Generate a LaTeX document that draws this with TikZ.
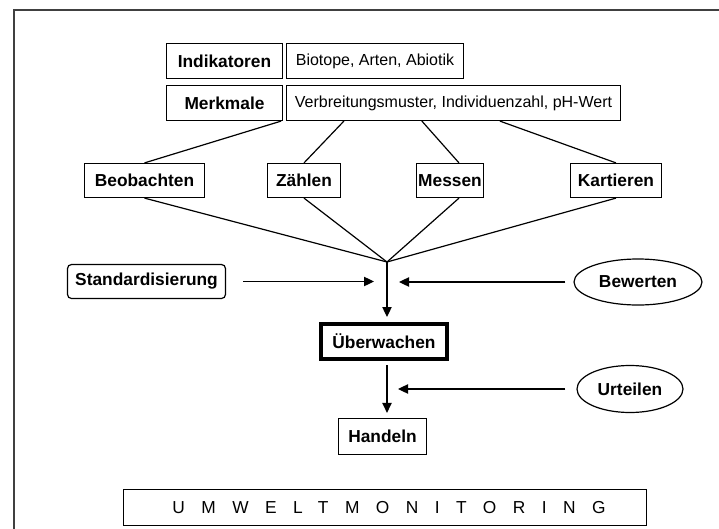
\documentclass[tikz,border=0pt]{standalone}
\usepackage{fontspec}
\setmainfont{Liberation Sans}
\usetikzlibrary{shapes.geometric,arrows.meta,calc}

\begin{document}
\begin{tikzpicture}
  [x=0.75pt,y=-0.75pt,
   every node/.style={draw,line width=0.9pt,inner sep=0pt,font=\fontsize{13}{15}\selectfont\bfseries},
   sz/.style 2 args={minimum width=#1*0.75pt,minimum height=#2*0.75pt},
   lbl/.style={font=\fontsize{12}{14}\selectfont},
   oval/.style={ellipse},
   arr/.style={line width=0.9pt,-{Triangle[length=7.5pt,width=7pt]}}]
  \useasboundingbox (0,0) rectangle (719,529);
  \draw[line width=1.5pt,black!75] (14,529) -- (14,10) -- (719,10);
  \node[sz={116}{35}] (ind) at (224.5,61) {Indikatoren};
  \node[lbl,sz={177}{35}] (bio) at (375,61) {Biotope, Arten, Abiotik};
  \node[sz={116}{35}] (merk) at (224.5,103) {Merkmale};
  \node[lbl,sz={334}{35}] (verb) at (453.5,103) {Verbreitungsmuster, Individuenzahl, pH-Wert};
  \node[sz={120}{34}] (beo) at (144.5,180.5) {Beobachten};
  \node[sz={73}{34}] (zah) at (304,180.5) {Zählen};
  \node[sz={67}{34}] (mes) at (450,180.5) {Messen};
  \node[sz={91}{34}] (kar) at (616,180.5) {Kartieren};
  \coordinate (j) at (387,262);
  \node[rounded corners=3pt,sz={158}{34}] (std) at (146.5,281.5) {Standardisierung};
  \node[oval,sz={128}{46}] (bew) at (638,282) {Bewerten};
  \node[line width=3pt,sz={126}{35}] (ueb) at (384,341.5) {Überwachen};
  \node[oval,sz={106}{47}] (urt) at (630,389) {Urteilen};
  \node[sz={88}{36}] (han) at (382.5,436.5) {Handeln};
  \node[sz={523}{36},font=\fontsize{13}{15}\selectfont\addfontfeatures{LetterSpace=95}] (umw) at (385,507.5) {UMWELTMONITORING\kern-6pt};

  \coordinate (m1) at ($(merk.south east)+(-2,0)$);
  \coordinate (m2) at ($(verb.south west)+(58,0)$);
  \coordinate (m3) at ($(verb.south west)+(136,0)$);
  \coordinate (m4) at ($(verb.south west)+(214,0)$);
  \coordinate (mt) at ($(mes.north)+(9,0)$);
  \coordinate (mb) at ($(mes.south)+(9,0)$);
  \foreach \from/\to in {m1/beo.north,m2/zah.north,m3/mt,m4/kar.north,
    beo.south/j,zah.south/j,mb/j,kar.south/j}
    \draw[line width=0.9pt] (\from) -- (\to);

  \draw[arr] ($(std.east)+(17,0)$) -- ($(j |- std.east)+(-13,0)$);
  \draw[arr] ($(bew.west)+(-8,0)$) -- ($(j |- bew.west)+(12,0)$);
  \draw[arr,shorten >=3.75pt] (j) -- (j |- ueb.north);
  \draw[arr,shorten <=3pt,shorten >=3.75pt] (j |- ueb.south) -- (j |- han.north);
  \draw[arr] ($(urt.west)+(-11,0)$) -- ($(j |- urt.west)+(11,0)$);
\end{tikzpicture}
\end{document}
